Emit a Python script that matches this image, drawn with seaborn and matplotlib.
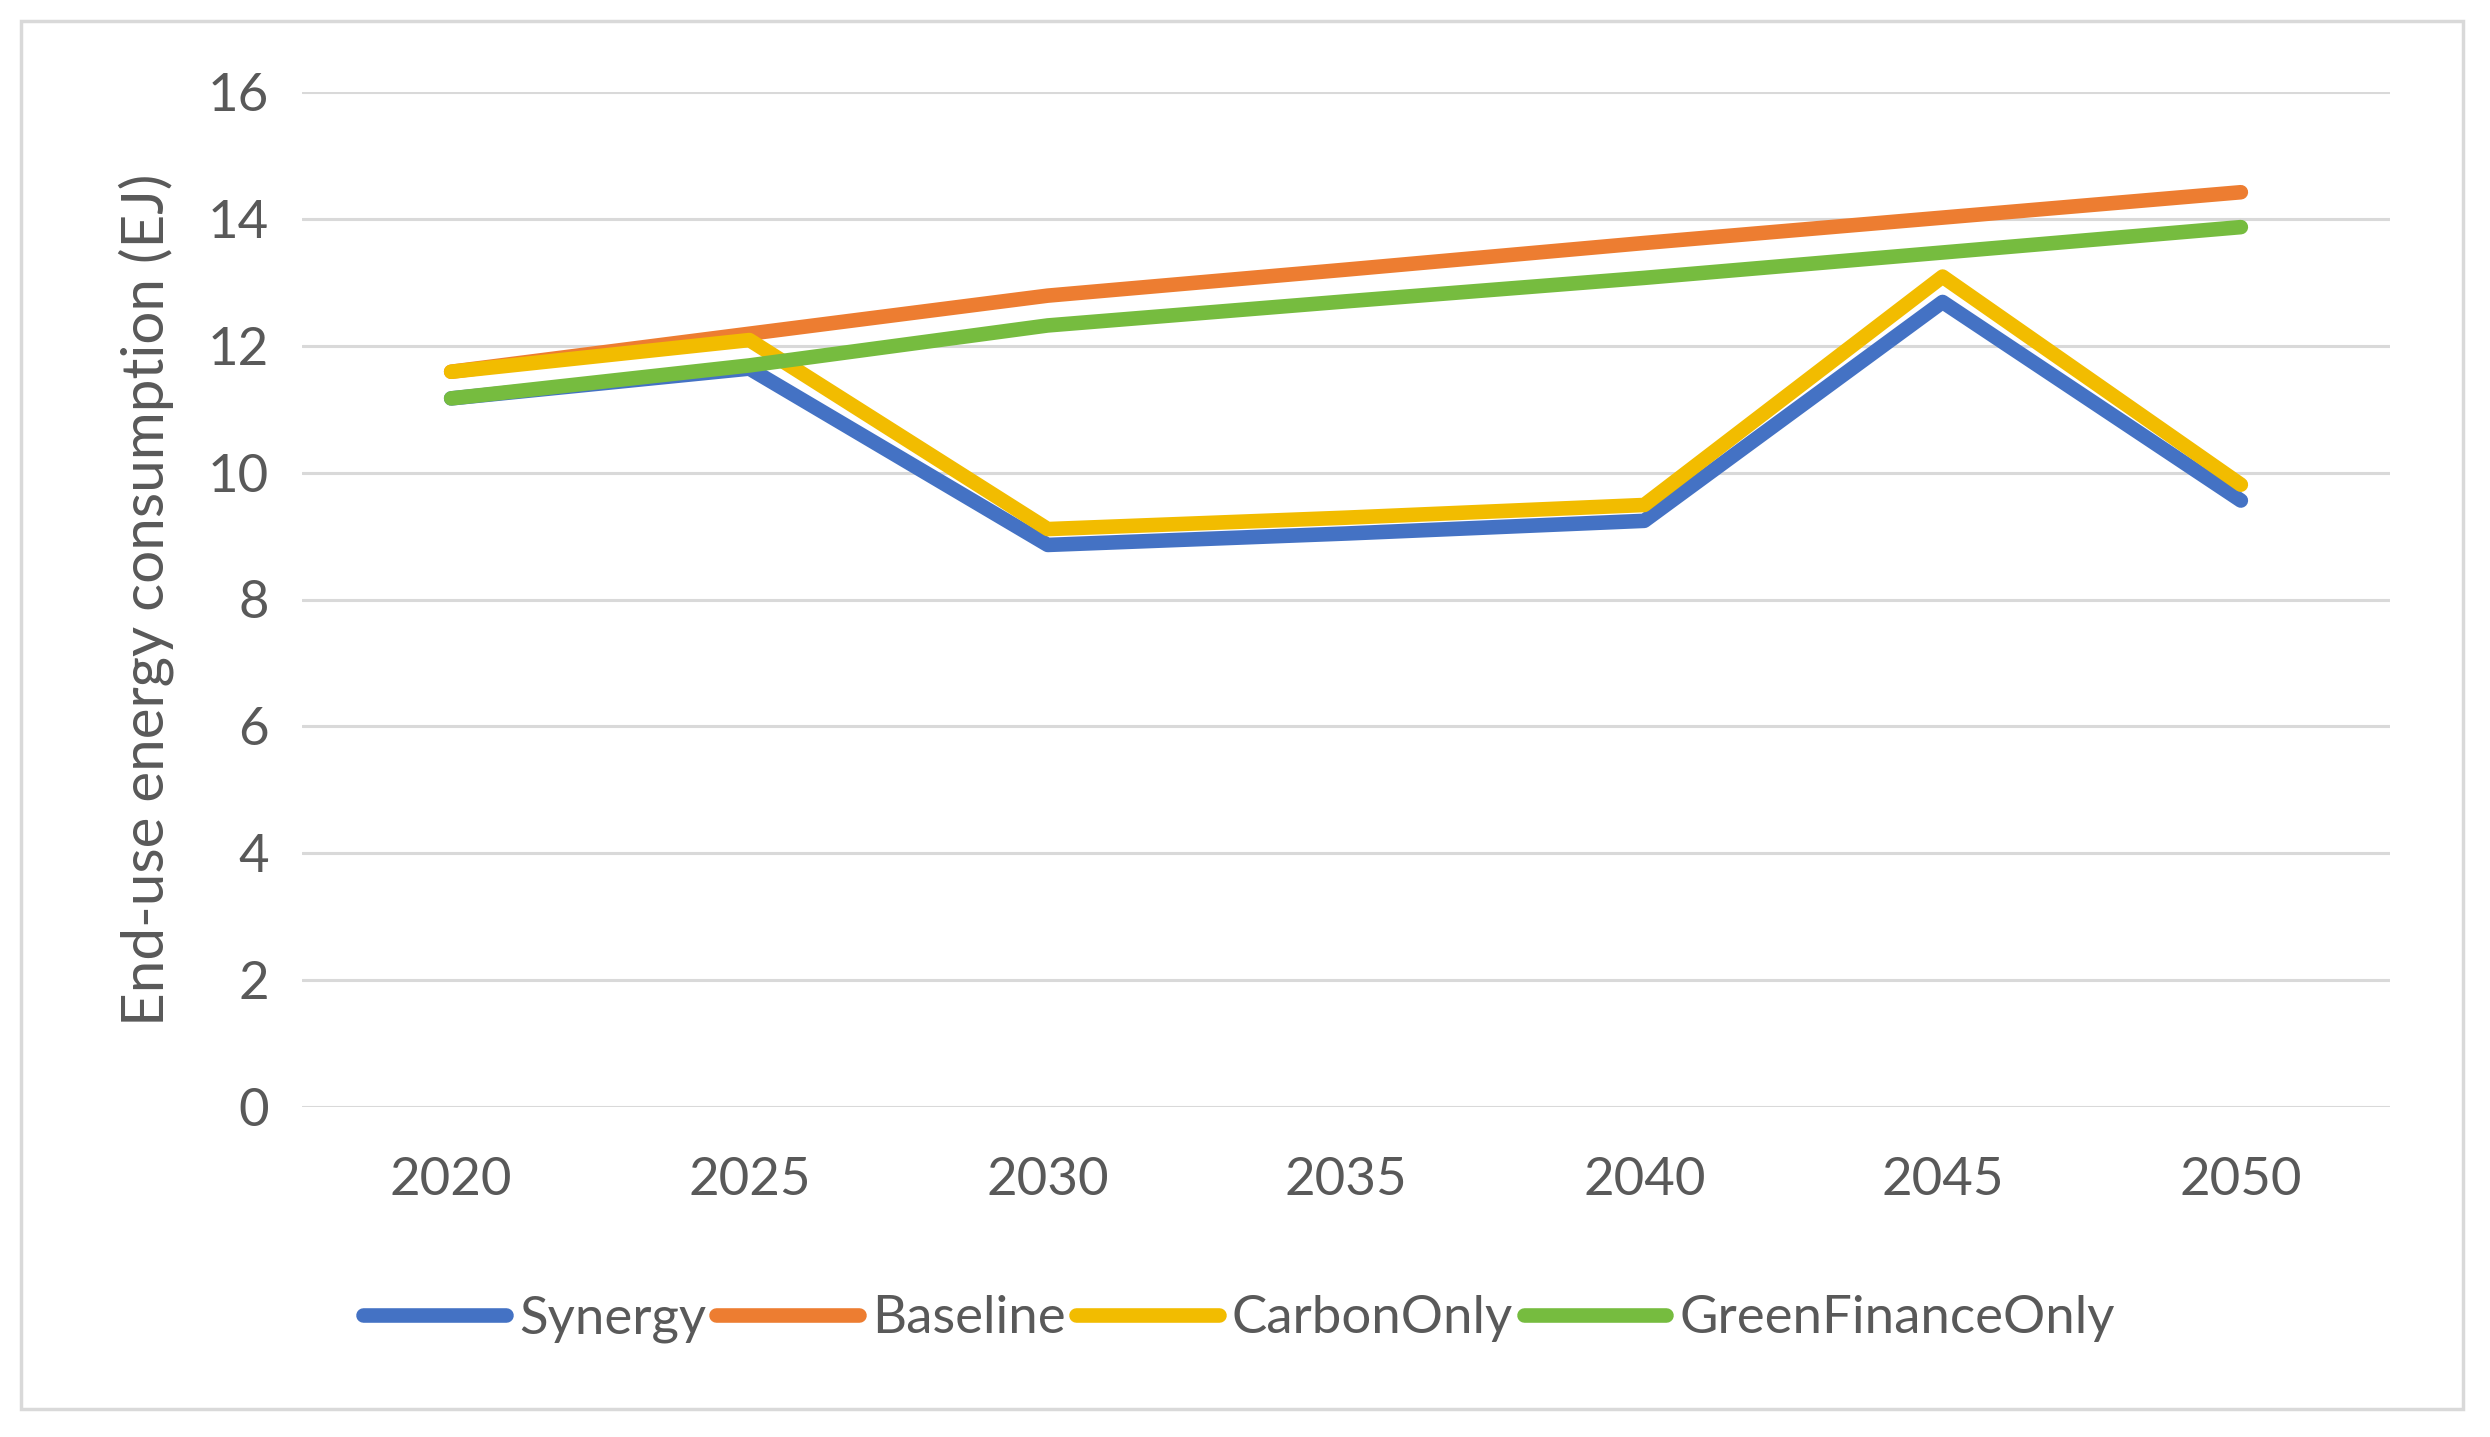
import pandas as pd
import matplotlib.pyplot as plt
import seaborn as sns
from matplotlib.patches import Rectangle

# Valores
years = ["2020", "2025", "2030", "2035", "2040", "2045", "2050"]
synergy = [11.17, 11.64, 8.86, 9.04, 9.24, 12.69, 9.56]
baseline = [11.59, 12.19, 12.79, 13.20, 13.62, 14.02, 14.42]
carbon_only = [11.59, 12.09, 9.11, 9.29, 9.49, 13.09, 9.81]
green_finance_only = [11.17, 11.69, 12.32, 12.70, 13.07, 13.47, 13.87]

escenarios = ["Synergy", "Baseline", "CarbonOnly", "GreenFinanceOnly"]
colores = ["#4472C4", "#ED7D31", "#F2BC00", "#76BC3F"]

datos = pd.DataFrame({
    "Year": years * 4,
    "Value": synergy + baseline + carbon_only + green_finance_only,
    "Scenario": sum([[s] * len(years) for s in escenarios], []),
})

sns.set_theme(style="white")
plt.rcParams["font.family"] = ["Lato", "DejaVu Sans"]

fig = plt.figure(figsize=(24.9, 14.37), dpi=100)
ax = fig.add_axes([302 / 2490, 1 - 1107 / 1437, (2390 - 302) / 2490, (1107 - 92) / 1437])

sns.lineplot(data=datos, x="Year", y="Value", hue="Scenario",
             hue_order=escenarios, palette=colores, linewidth=10.5,
             sort=False, ax=ax, legend=False, zorder=3)
for linea in ax.lines:
    linea.set_solid_capstyle("round")

ax.set_xlim(-0.5, 6.5)
ax.set_ylim(0, 16)
ax.set_yticks(range(0, 17, 2))
ax.grid(axis="y", color="#d9d9d9", linewidth=2.2, zorder=0)
ax.grid(axis="x", visible=False)
for lado in ax.spines.values():
    lado.set_visible(False)
ax.tick_params(axis="both", length=0, labelsize=38, labelcolor="#595959")
ax.tick_params(axis="x", pad=36)
ax.tick_params(axis="y", pad=24)
ax.set_xlabel("")
ax.set_ylabel("End-use energy consumption (EJ)", fontsize=42, color="#595959", labelpad=24)

# Leyenda abajo en una sola fila
manejadores = [plt.Line2D([0], [0], color=c, linewidth=10.5, solid_capstyle="round") for c in colores]
fig.legend(manejadores, escenarios, loc="center", bbox_to_anchor=(0.4976, 0.082),
           ncol=4, frameon=False, fontsize=38, handlelength=2.7,
           handletextpad=0.25, columnspacing=0.2, labelcolor="#595959")

# Borde exterior del grafico
fig.patches.append(Rectangle((21 / 2490, 1 - 1409 / 1437), (2463 - 21) / 2490, (1409 - 21) / 1437,
                             transform=fig.transFigure, fill=False,
                             edgecolor="#d9d9d9", linewidth=2.5))

plt.savefig("out.png", dpi=100)
